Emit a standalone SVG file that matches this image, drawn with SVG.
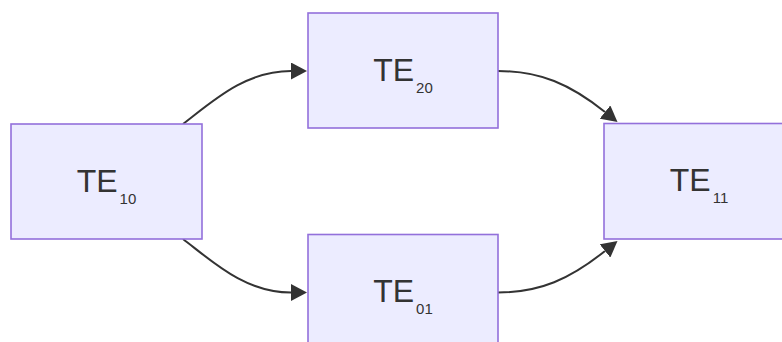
<svg xmlns="http://www.w3.org/2000/svg" width="782" height="342" viewBox="0 0 782 342">
<style>
.node rect{fill:#ECECFF;stroke:#9370DB;stroke-width:1.6}
.node text{font-family:"Liberation Sans",Arial,sans-serif;font-size:32px;fill:#333333;text-anchor:middle}
.node tspan{font-size:15px}
.edge{fill:none;stroke:#333333;stroke-width:2}
</style>
<defs>
<marker id="arrow" viewBox="0 0 10 10" refX="0" refY="5" markerUnits="userSpaceOnUse" markerWidth="16" markerHeight="17" preserveAspectRatio="none" orient="auto">
<path d="M0,0 L10,5 L0,10 z" fill="#333333"/>
</marker>
</defs>
<g id="edges">
<path class="edge" d="M183,124 C213,101 245,71 291,71" marker-end="url(#arrow)"/>
<path class="edge" d="M498,71 C540,71 570,84 605,112" marker-end="url(#arrow)"/>
<path class="edge" d="M183,239 C213,262 245,292.5 291,292.5" marker-end="url(#arrow)"/>
<path class="edge" d="M498,292.5 C540,292.5 570,279 605,251" marker-end="url(#arrow)"/>
</g>
<g id="TE10" class="node">
<rect x="11" y="124" width="191" height="115"/>
<text x="106.5" y="191.5">TE<tspan dx="2" dy="12">10</tspan></text>
</g>
<g id="TE20" class="node">
<rect x="308" y="13" width="190" height="115"/>
<text x="403" y="80.5">TE<tspan dx="2" dy="12">20</tspan></text>
</g>
<g id="TE01" class="node">
<rect x="308" y="234.5" width="190" height="115"/>
<text x="403" y="302">TE<tspan dx="2" dy="12">01</tspan></text>
</g>
<g id="TE11" class="node">
<rect x="604" y="123.5" width="190" height="115.5"/>
<text x="699" y="191">TE<tspan dx="2" dy="12">11</tspan></text>
</g>
</svg>
